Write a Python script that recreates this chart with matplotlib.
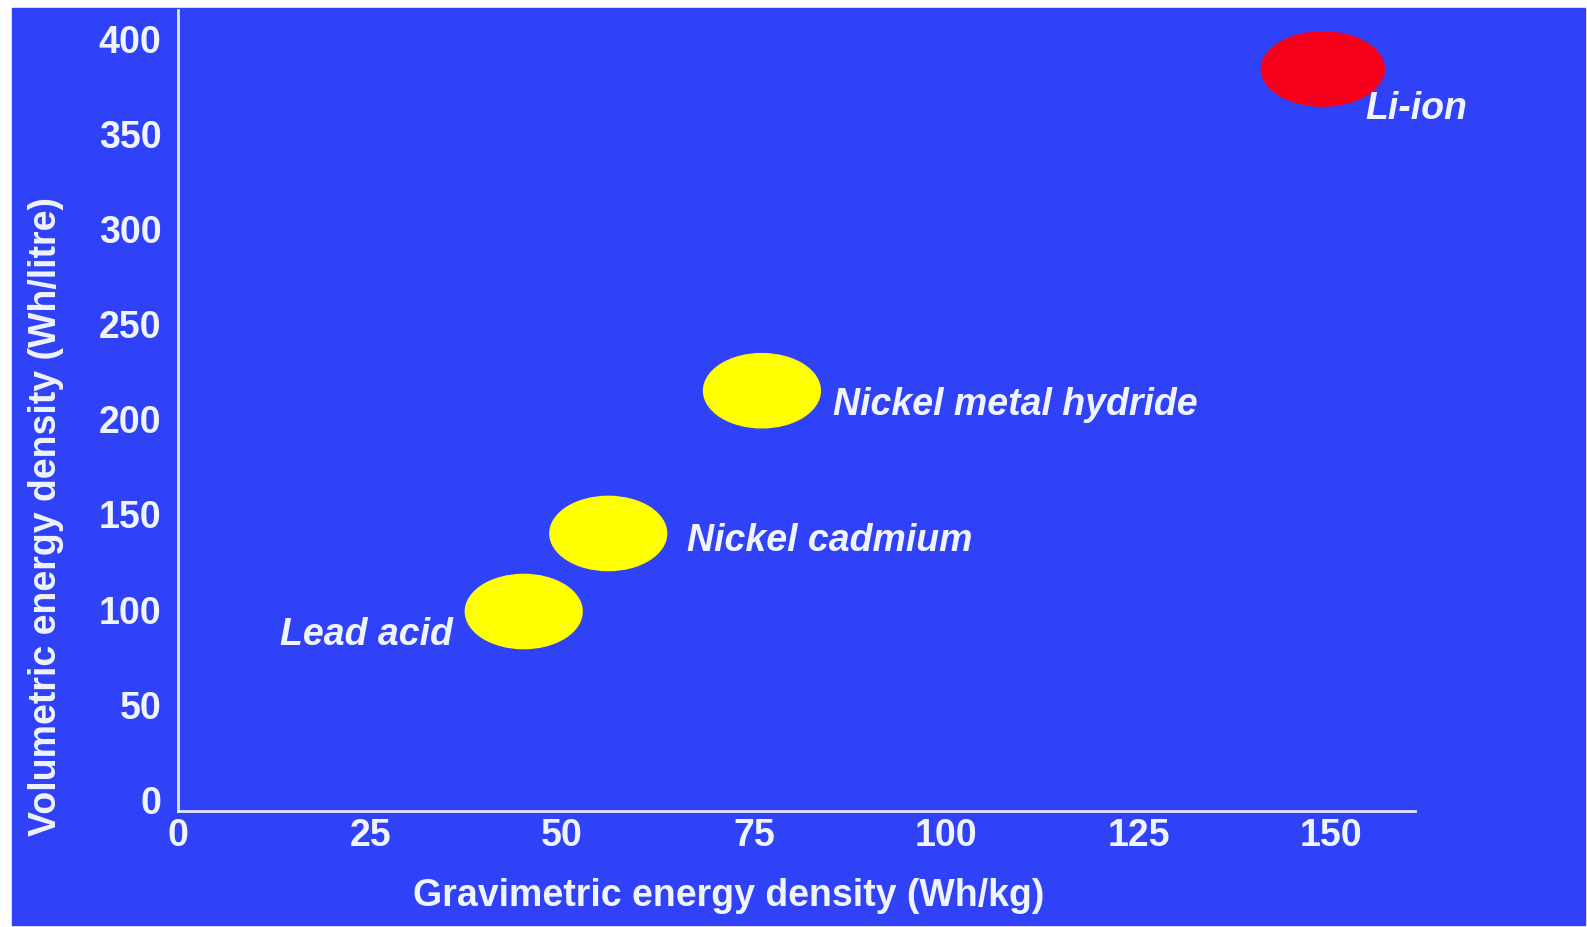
import matplotlib.pyplot as plt
import matplotlib.patches as patches

# battery chemistries: gravimetric (Wh/kg) vs volumetric (Wh/litre)
names = ['Lead acid', 'Nickel cadmium', 'Nickel metal hydride', 'Li-ion']
grav = [45, 56, 76, 149]
vol = [99, 140, 215, 384]
colors = ['#ffff00', '#ffff00', '#ffff00', '#f8001c']

xticks = [0, 25, 50, 75, 100, 125, 150]
yticks = [0, 50, 100, 150, 200, 250, 300, 350, 400]

BLUE = '#3042f8'
FG = '#f0f4ff'
FONT = 'Liberation Sans'

fig = plt.figure(figsize=(15.87, 9.27), dpi=100)
fig.patch.set_facecolor('white')
# blue panel, leaving a thin white margin top/left
fig.add_artist(patches.Rectangle((12 / 1587, 2 / 927), 1573 / 1587, 917 / 927,
                                 transform=fig.transFigure, color=BLUE, zorder=0))

ax = fig.add_axes([178 / 1587, 116 / 927, 1237 / 1587, 801 / 927])
ax.set_facecolor('none')
ax.set_xlim(0.3, 161)
ax.set_ylim(-5.8, 415)

for s in ['top', 'right']:
    ax.spines[s].set_visible(False)
for s in ['left', 'bottom']:
    ax.spines[s].set_color('#dfe6ff')
    ax.spines[s].set_linewidth(2)

ax.set_xticks(xticks)
ax.set_yticks(yticks)
ax.tick_params(length=0, colors=FG)
ax.tick_params(axis='y', pad=12)
ax.tick_params(axis='x', pad=5)
for lab in ax.get_xticklabels() + ax.get_yticklabels():
    lab.set_fontfamily(FONT)
    lab.set_fontweight('bold')
    lab.set_fontsize(27)

# ellipse markers sized in data units
for x, y, c, n in zip(grav, vol, colors, names):
    w = 16 if n == 'Li-ion' else 15.2
    ax.add_patch(patches.Ellipse((x, y), w, 39, color=c, zorder=3))

# labels next to each ellipse
lab_kw = dict(va='center', color=FG, fontsize=27, fontweight='bold',
              style='italic', family=FONT)
ax.text(grav[0] - 9.2, vol[0] - 12.5, names[0], ha='right', **lab_kw)
ax.text(grav[1] + 10.3, vol[1] - 4, names[1], ha='left', **lab_kw)
ax.text(grav[2] + 9.2, vol[2] - 7.5, names[2], ha='left', **lab_kw)
ax.text(grav[3] + 5.5, vol[3] - 21, names[3], ha='left', **lab_kw)

ax.set_xlabel('Gravimetric energy density (Wh/kg)', color=FG, fontsize=27,
              fontweight='bold', family=FONT, va='center', ha='center')
ax.set_ylabel('Volumetric energy density (Wh/litre)', color=FG, fontsize=27,
              fontweight='bold', family=FONT, va='center', ha='center')
ax.xaxis.set_label_coords(0.445, -0.106)
ax.yaxis.set_label_coords(-0.107, 0.368)

fig.savefig('out.png', dpi=100)
